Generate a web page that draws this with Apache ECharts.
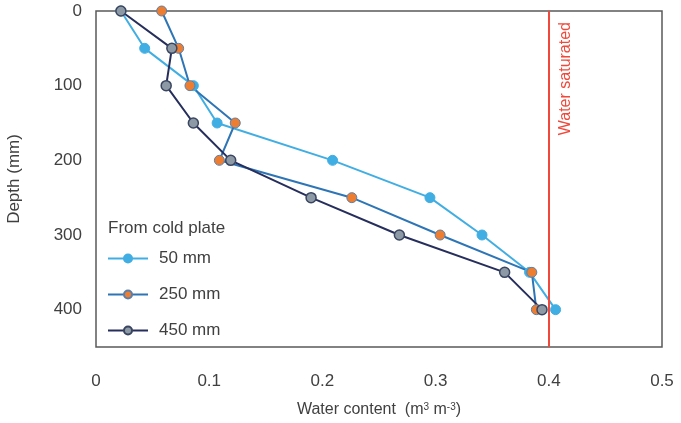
<!DOCTYPE html>
<html>
<head>
<meta charset="utf-8">
<style>
  html, body { margin: 0; padding: 0; background: #fff; }
  #chart { width: 681px; height: 423px; }
</style>
<script src="https://cdn.jsdelivr.net/npm/echarts@6.0.0/dist/echarts.min.js"></script>
</head>
<body>
<div id="chart"></div>
<script>
// depth below surface (mm)
var depths = [0, 50, 100, 150, 200, 250, 300, 350, 400];
// water content (m3 m-3), distance from cold plate
var wc50 = [0.022, 0.043, 0.086, 0.107, 0.209, 0.295, 0.341, 0.383, 0.406];
var wc250 = [0.058, 0.073, 0.083, 0.123, 0.109, 0.226, 0.304, 0.385, 0.389];
var wc450 = [0.022, 0.067, 0.062, 0.086, 0.119, 0.190, 0.268, 0.361, 0.394];
var seriesNames = ["50 mm", "250 mm", "450 mm"];
var satLevel = 0.4;

var font = "Liberation Sans";
var textColor = "#404040";

function pairs(vals) {
  return vals.map(function (v, i) {
    return [v, depths[i]];
  });
}

var chart = echarts.init(document.getElementById("chart"));
var option = {
  animation: false,
  textStyle: { fontFamily: font },
  grid: {
    left: 96,
    right: 19,
    top: 11,
    bottom: 76,
    outerBoundsMode: "none",
    show: true,
    borderColor: "#5a5a5a",
    borderWidth: 1.5,
  },
  legend: {
    data: seriesNames,
    orient: "vertical",
    left: 107,
    top: 250,
    padding: 0,
    itemWidth: 40,
    itemHeight: 10,
    itemGap: 19,
    textStyle: {
      color: textColor,
      fontSize: 17,
      fontFamily: font,
      padding: [0, 0, 0, 6],
    },
  },
  xAxis: {
    type: "value",
    min: 0,
    max: 0.5,
    interval: 0.1,
    axisLine: { show: false },
    axisTick: { show: false },
    splitLine: { show: false },
    axisLabel: { color: textColor, fontSize: 17, margin: 26 },
    name: "Water content  (m{sup|3} m{sup|-3})",
    nameLocation: "middle",
    nameGap: 55,
    nameTextStyle: {
      color: textColor,
      fontSize: 16,
      rich: {
        sup: { fontSize: 10, verticalAlign: "top", color: textColor },
      },
    },
  },
  yAxis: {
    type: "value",
    inverse: true,
    min: 0,
    max: 450,
    interval: 100,
    axisLine: { show: false },
    axisTick: { show: false },
    splitLine: { show: false },
    axisLabel: { color: textColor, fontSize: 17, margin: 14, showMaxLabel: false },
    name: "Depth (mm)",
    nameLocation: "middle",
    nameGap: 73,
    nameTextStyle: { color: textColor, fontSize: 17 },
  },
  series: [
    {
      name: seriesNames[0],
      type: "line",
      symbol: "circle",
      symbolSize: 10,
      lineStyle: { color: "#41aee3", width: 2 },
      itemStyle: { color: "#41aee3", borderColor: "#41aee3", borderWidth: 1 },
      data: pairs(wc50),
      markLine: {
        silent: true,
        symbol: "none",
        label: { show: false },
        lineStyle: { color: "#f0493b", width: 2, type: "solid" },
        data: [{ xAxis: satLevel }],
      },
    },
    {
      name: seriesNames[1],
      type: "line",
      symbol: "circle",
      symbolSize: 10,
      lineStyle: { color: "#2e75b6", width: 2 },
      itemStyle: { color: "#ed7d31", borderColor: "#5b7fa8", borderWidth: 1 },
      data: pairs(wc250),
    },
    {
      name: seriesNames[2],
      type: "line",
      symbol: "circle",
      symbolSize: 10,
      lineStyle: { color: "#262e5c", width: 2 },
      itemStyle: { color: "#8e99a6", borderColor: "#3a4660", borderWidth: 1.5 },
      data: pairs(wc450),
    },
  ],
};
chart.setOption(option);

// labels placed next to the plot using the axis scales
var satX = chart.convertToPixel({ xAxisIndex: 0 }, satLevel);
var topY = chart.convertToPixel({ yAxisIndex: 0 }, 0);
chart.setOption({
  graphic: [
    {
      type: "text",
      left: 108,
      top: 220,
      style: {
        text: "From cold plate",
        fill: textColor,
        font: "17px " + font,
      },
    },
    {
      type: "text",
      x: satX + 17,
      y: topY + 11,
      rotation: Math.PI / 2,
      style: {
        text: "Water saturated",
        fill: "#f0493b",
        font: "16px " + font,
        align: "right",
        verticalAlign: "middle",
      },
    },
  ],
});
</script>
</body>
</html>
